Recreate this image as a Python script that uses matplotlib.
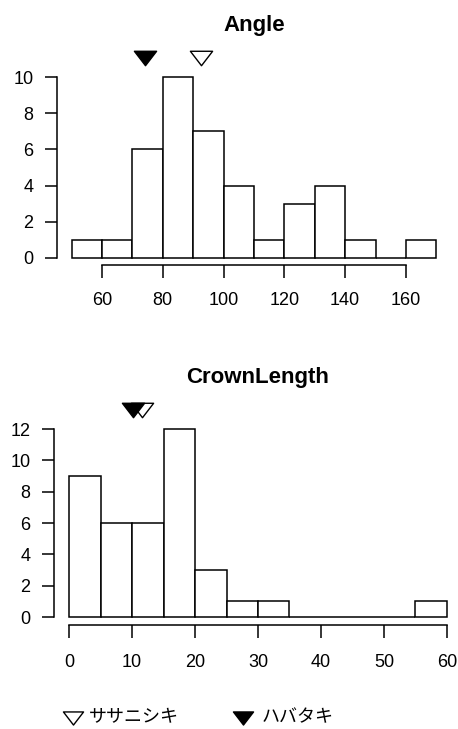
import matplotlib.pyplot as plt
from matplotlib.lines import Line2D
from matplotlib.path import Path
import numpy as np

plt.rcParams['font.family'] = ['Liberation Sans', 'Noto Sans CJK JP']

# Angle histogram (breaks of 10)
angle_edges = [50, 60, 70, 80, 90, 100, 110, 120, 130, 140, 150, 160, 170]
angle_counts = [1, 1, 6, 10, 7, 4, 1, 3, 4, 1, 0, 1]
angle_means = {'ササニシキ': 92.6, 'ハバタキ': 74.1}

# CrownLength histogram (breaks of 5)
crown_edges = [0, 5, 10, 15, 20, 25, 30, 35, 40, 45, 50, 55, 60]
crown_counts = [9, 6, 6, 12, 3, 1, 1, 0, 0, 0, 0, 1]
crown_means = {'ササニシキ': 11.5, 'ハバタキ': 10.1}

groups = ['ササニシキ', 'ハバタキ']
fills = ['white', 'black']

# downward triangle, closed so the open one gets all three sides
tri = Path([(-1, 0.65), (1, 0.65), (0, -0.65), (-1, 0.65)],
           [Path.MOVETO, Path.LINETO, Path.LINETO, Path.CLOSEPOLY])

fig = plt.figure(figsize=(4.58, 7.29), dpi=100)
ax1 = fig.add_axes([0.1245, 0.6365, 0.860, 0.2675])
ax2 = fig.add_axes([0.1179, 0.1433, 0.8908, 0.2785])


def hist_panel(ax, edges, counts, means, title, yticks, xticks, ymark, xpad):
    edges = np.array(edges)
    ax.bar(edges[:-1], counts, width=np.diff(edges), align='edge',
           color='white', edgecolor='black', linewidth=1.1)
    span = edges[-1] - edges[0]
    ax.set_xlim(edges[0] - 0.04 * span, edges[-1] + 0.04 * span)
    ytop = yticks[-1]
    ax.set_ylim(-0.04 * ytop, ytop * 1.04)
    for s in ['top', 'right']:
        ax.spines[s].set_visible(False)
    ax.spines['left'].set_bounds(0, ytop)
    ax.spines['bottom'].set_bounds(xticks[0], xticks[-1])
    for s in ['left', 'bottom']:
        ax.spines[s].set_linewidth(1.1)
    ax.set_yticks(yticks)
    ax.set_xticks(xticks)
    ax.tick_params(direction='out', length=9, width=1.1, labelsize=13)
    ax.tick_params(axis='y', pad=8)
    ax.tick_params(axis='x', pad=xpad)
    ax.set_title(title, fontsize=16, fontweight='bold', pad=28)
    for g, fc in zip(groups, fills):
        ax.plot(means[g], ymark, marker=tri, ms=16, mfc=fc,
                mec='black', mew=1.0, clip_on=False, ls='none')


hist_panel(ax1, angle_edges, angle_counts, angle_means, 'Angle',
           [0, 2, 4, 6, 8, 10], [60, 80, 100, 120, 140, 160], 11.05, 10.5)
hist_panel(ax2, crown_edges, crown_counts, crown_means, 'CrownLength',
           [0, 2, 4, 6, 8, 10, 12], [0, 10, 20, 30, 40, 50, 60], 13.2, 12.5)

# legend along the bottom
ly = 1 - 718 / 729
for g, fc, mx, tx in zip(groups, fills, [73, 243], [89, 262]):
    fig.add_artist(Line2D([mx / 458], [ly], transform=fig.transFigure,
                          marker=tri, ms=14.5, mfc=fc, mec='black', mew=1.0,
                          ls='none'))
    fig.text(tx / 458, ly, g, fontsize=13, va='center', ha='left')

fig.savefig('out.png', dpi=100)
